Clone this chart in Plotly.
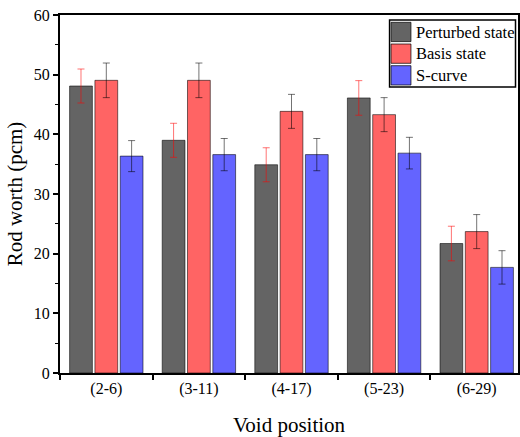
import plotly.graph_objects as go

categories = ["(2-6)", "(3-11)", "(4-17)", "(5-23)", "(6-29)"]
perturbed = [48.1, 39.0, 34.9, 46.1, 21.7]
perturbed_err = [2.85, 2.85, 2.85, 2.9, 2.9]
basis = [49.05, 49.05, 43.85, 43.3, 23.7]
basis_err = [2.9, 2.9, 2.85, 2.85, 2.85]
scurve = [36.35, 36.6, 36.6, 36.85, 17.7]
scurve_err = [2.6, 2.7, 2.7, 2.65, 2.8]

y_ticks = [0, 10, 20, 30, 40, 50, 60]

FONT = "Liberation Serif"
W, H = 520, 437
ML, MR, MT, MB = 60, 0, 15, 64
PW, PH = W - ML - MR, H - MT - MB


def px(x):
    return (x - ML) / PW


def py(y):
    return (H - MB - y) / PH


fig = go.Figure()
series = [
    ("Perturbed state", perturbed, perturbed_err, "#646464", "rgba(255,0,0,0.55)"),
    ("Basis state", basis, basis_err, "#ff6464", "rgba(0,0,0,0.55)"),
    ("S-curve", scurve, scurve_err, "#6464ff", "rgba(0,0,0,0.55)"),
]
shapes = []
annotations = []
# legend box
shapes.append(dict(type="rect", xref="paper", yref="paper",
                   x0=px(391), x1=px(517.5), y0=py(87), y1=py(20),
                   line=dict(color="black", width=1.5), fillcolor="white", layer="above"))
for i, (name, vals, errs, col, ecol) in enumerate(series):
    fig.add_trace(go.Bar(
        x=categories, y=vals, name=name,
        marker=dict(color=col, line=dict(color="rgba(0,0,0,0.55)", width=1)),
        error_y=dict(type="data", array=errs, visible=True, color=ecol,
                     thickness=1, width=3.5),
    ))
    top = 22.3 + i * 21.7
    shapes.append(dict(type="rect", xref="paper", yref="paper",
                       x0=px(392.5), x1=px(412.5), y0=py(top + 19.3), y1=py(top),
                       line=dict(color="rgba(0,0,0,0.7)", width=1), fillcolor=col, layer="above"))
    annotations.append(dict(xref="paper", yref="paper", x=px(416), y=py(top + 9.8),
                            text=name, showarrow=False, xanchor="left", yanchor="middle",
                            font=dict(family=FONT, size=16.5, color="black")))

fig.update_layout(
    width=W, height=H,
    margin=dict(l=ML, r=MR, t=MT, b=MB),
    paper_bgcolor="white", plot_bgcolor="white",
    barmode="group", bargap=0.18, bargroupgap=0.1,
    font=dict(family=FONT, color="black", size=16),
    showlegend=False,
    shapes=shapes, annotations=annotations,
    xaxis=dict(
        range=[-0.5, 4.446], showline=True, linecolor="black", linewidth=2,
        mirror=True, ticks="outside", ticklen=5, tickwidth=1.5, tickcolor="black",
        tickson="boundaries", showgrid=False,
        tickfont=dict(family=FONT, size=16),
        title=dict(text="Void position", font=dict(family=FONT, size=21), standoff=20),
    ),
    yaxis=dict(
        range=[0, 60], tickvals=y_ticks, showline=True, linecolor="black", linewidth=2,
        mirror=True, ticks="outside", ticklen=5, tickwidth=1.5, tickcolor="black",
        showgrid=False, zeroline=False,
        minor=dict(ticks="outside", ticklen=3, tickwidth=1, tickcolor="black", dtick=5, showgrid=False),
        tickfont=dict(family=FONT, size=16),
        title=dict(text="Rod worth (pcm)", font=dict(family=FONT, size=21), standoff=5),
    ),
)

fig.write_html("out.html")
